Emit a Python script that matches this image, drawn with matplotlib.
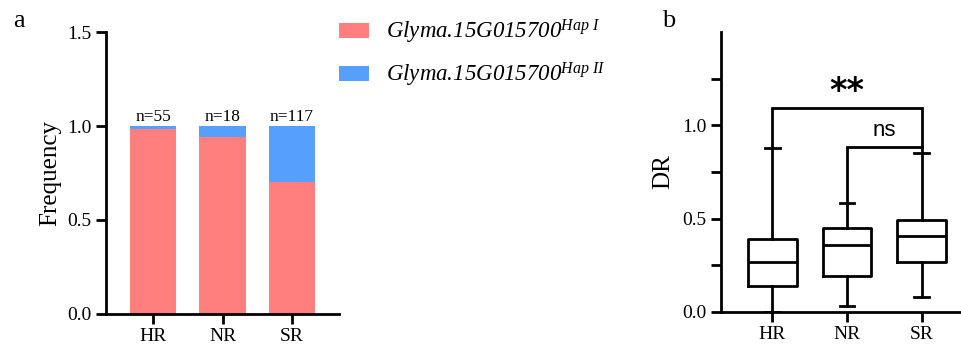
import matplotlib
matplotlib.use("Agg")
import matplotlib.pyplot as plt
from matplotlib.patches import Patch

plt.rcParams['font.family'] = 'Liberation Serif'
plt.rcParams['mathtext.fontset'] = 'custom'
plt.rcParams['mathtext.it'] = 'Liberation Serif:italic'
plt.rcParams['mathtext.rm'] = 'Liberation Serif:italic'

# Panel a data: haplotype frequency per group
groups = ['HR', 'NR', 'SR']
n_counts = [55, 18, 117]
hap1_freq = [0.982, 0.944, 0.70]
hap2_freq = [0.018, 0.056, 0.30]

# Panel b data: DR box summaries
dr_whislo = [0.0, 0.029, 0.077]
dr_q1 = [0.138, 0.191, 0.265]
dr_med = [0.265, 0.357, 0.409]
dr_q3 = [0.389, 0.448, 0.490]
dr_whishi = [0.880, 0.586, 0.850]

# significance brackets (group i, group j, bracket height, label)
brackets = [(0, 2, 1.095, '**'), (1, 2, 0.884, 'ns')]

red = '#FF7F7F'
blue = '#569FFA'
lw = 2.0

fig = plt.figure(figsize=(9.61, 3.48), dpi=100)

# ---------------- panel a ----------------
ax1 = fig.add_axes([0.1103, 0.0986, 0.2425, 0.8086])
x = range(len(groups))
ax1.bar(x, hap1_freq, width=0.67, color=red, edgecolor='none')
ax1.bar(x, hap2_freq, bottom=hap1_freq, width=0.67, color=blue, edgecolor='none')
for i, n in enumerate(n_counts):
    ax1.annotate(f'n={n}', (i, hap1_freq[i] + hap2_freq[i]), xytext=(0, 1),
                 textcoords='offset points', ha='center', va='bottom', fontsize=12.5)
ax1.set_xlim(-0.68, 2.68)
ax1.set_ylim(0, 1.5)
ax1.set_yticks([0, 0.5, 1.0, 1.5])
ax1.set_yticklabels(['0.0', '0.5', '1.0', '1.5'])
ax1.set_xticks(list(x))
ax1.set_xticklabels(groups)
ax1.set_ylabel('Frequency', fontsize=18, labelpad=4)
for s in ['top', 'right']:
    ax1.spines[s].set_visible(False)
for s in ['left', 'bottom']:
    ax1.spines[s].set_linewidth(lw)
ax1.tick_params(width=lw, length=7, labelsize=14, color='black')
fig.text(13 / 961, 1 - 27 / 348, 'a', fontsize=19, va='baseline')

handles = [Patch(facecolor=red), Patch(facecolor=blue)]
labels = [r'Glyma.15G015700$^{Hap\ I}$',
          r'Glyma.15G015700$^{Hap\ II}$']
fig.legend(handles, labels, loc='upper left', bbox_to_anchor=(339 / 961, 1 - 18 / 348),
           frameon=False, prop={'style': 'italic', 'size': 16.5}, handlelength=1.3,
           handleheight=0.66, handletextpad=0.75, labelspacing=0.65, borderpad=0,
           borderaxespad=0)

# ---------------- panel b ----------------
ax2 = fig.add_axes([0.7503, 0.1043, 0.2497, 0.8029])
stats = []
for i, g in enumerate(groups):
    stats.append(dict(label=g, whislo=dr_whislo[i], q1=dr_q1[i], med=dr_med[i],
                      q3=dr_q3[i], whishi=dr_whishi[i], fliers=[]))
line_kw = dict(color='black', linewidth=lw)
ax2.bxp(stats, positions=list(x), widths=0.65, capwidths=0.2, showfliers=False,
        boxprops=line_kw, whiskerprops=line_kw, capprops=line_kw, medianprops=line_kw)

# bracket legs go down to the top of each whisker / lower bracket
tops = list(dr_whishi)
for i, j, h, lab in sorted(brackets, key=lambda b: b[2]):
    ax2.plot([i, i, j, j], [tops[i], h, h, tops[j]], color='black', lw=lw,
             solid_joinstyle='miter', clip_on=False)
    if lab == '**':
        ax2.text((i + j) / 2, h + 0.085, lab, ha='center', va='center', fontsize=24,
                 fontweight='bold', family='DejaVu Sans')
    else:
        ax2.text((i + j) / 2, h + 0.03, lab, ha='center', va='bottom', fontsize=16,
                 family='Liberation Sans')
    tops[j] = h

ax2.set_xlim(-0.69, 2.53)
ax2.set_ylim(0, 1.5)
ax2.set_yticks([0, 0.25, 0.5, 0.75, 1.0, 1.25])
ax2.set_yticklabels(['0.0', '', '0.5', '', '1.0', ''])
ax2.set_xticks(list(x))
ax2.set_xticklabels(groups)
ax2.set_ylabel('DR', fontsize=18, labelpad=6)
for s in ['top', 'right']:
    ax2.spines[s].set_visible(False)
for s in ['left', 'bottom']:
    ax2.spines[s].set_linewidth(lw)
ax2.tick_params(width=lw, length=7, labelsize=14, color='black')
fig.text(662 / 961, 1 - 27 / 348, 'b', fontsize=19, va='baseline')

fig.savefig('out.png', dpi=100)
